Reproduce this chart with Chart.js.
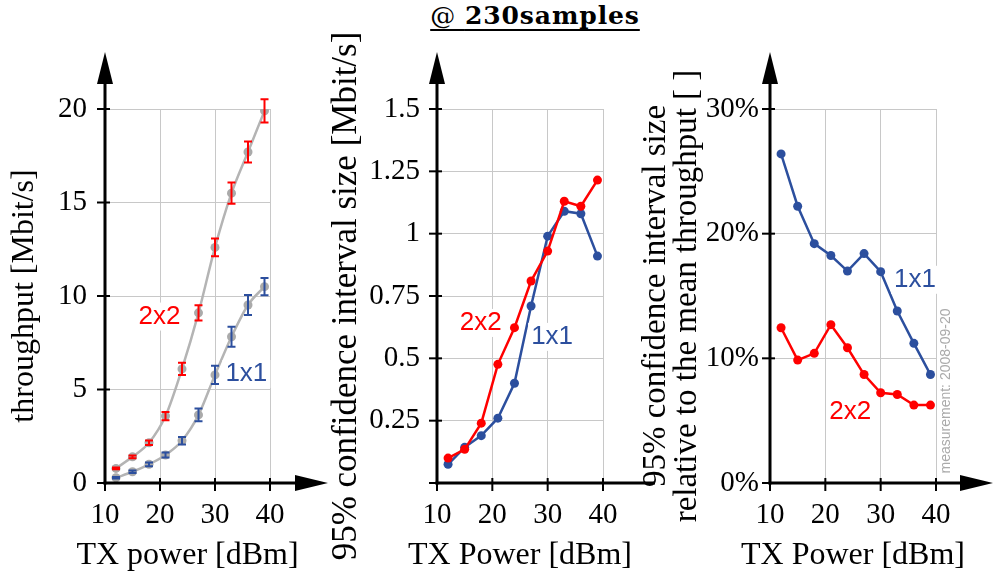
<!DOCTYPE html>
<html><head><meta charset="utf-8">
<script src="https://cdn.jsdelivr.net/npm/chart.js@4"></script>
<style>
html,body{margin:0;padding:0;background:#fff;width:997px;height:574px;overflow:hidden;}
canvas{position:absolute;top:0;}
#title{position:absolute;left:335px;width:400px;top:1px;text-align:center;font-family:"DejaVu Serif";font-size:25px;color:#000;letter-spacing:0.9px;text-decoration:underline;text-decoration-thickness:1.5px;text-underline-offset:5px;}
#title b{font-weight:bold;}
</style></head>
<body>
<div id="title">@ <b>230samples</b></div>
<canvas id="c1" width="335" height="574" style="left:0px;width:335px;height:574px"></canvas>
<canvas id="c2" width="330" height="574" style="left:325px;width:330px;height:574px"></canvas>
<canvas id="c3" width="367" height="574" style="left:630px;width:367px;height:574px"></canvas>
<script>
// ---- data ----
const txPower = [12, 15, 18, 21, 24, 27, 30, 33, 36, 39];
const thr2x2 = [0.78, 1.4, 2.15, 3.58, 6.1, 9.1, 12.6, 15.5, 17.7, 19.9];
const thr1x1 = [0.28, 0.6, 1.0, 1.5, 2.26, 3.64, 5.78, 7.82, 9.52, 10.5];
const err2x2 = [0.05, 0.07, 0.12, 0.22, 0.33, 0.41, 0.47, 0.57, 0.56, 0.62];
const err1x1 = [0.04, 0.07, 0.1, 0.13, 0.2, 0.34, 0.49, 0.53, 0.54, 0.46];
const ci2x2 = [0.10, 0.135, 0.24, 0.476, 0.623, 0.81, 0.93, 1.13, 1.11, 1.215];
const ci1x1 = [0.075, 0.143, 0.19, 0.26, 0.40, 0.71, 0.99, 1.09, 1.08, 0.91];
const rel2x2 = [12.45, 9.86, 10.4, 12.7, 10.85, 8.7, 7.24, 7.1, 6.25, 6.25];
const rel1x1 = [26.4, 22.2, 19.2, 18.25, 17.0, 18.4, 16.95, 13.8, 11.2, 8.7];
const xTicks = [10, 20, 30, 40];
const thrTicks = ['0', '5', '10', '15', '20'];
const ciTicks = ['', '0.25', '0.5', '0.75', '1', '1.25', '1.5'];
const relTicks = ['0%', '10%', '20%', '30%'];

const RED = '#ff0000', BLUE = '#2c4f9e', GREY = '#b4b4b4', GRID = '#c8c8c8';
Chart.defaults.font.family = 'Liberation Serif';
Chart.defaults.color = '#000';

const pts = (ys) => txPower.map((x, i) => ({x: x, y: ys[i]}));

function axesPlugin(tipX, tipY, xTitle) {
  return {
    id: 'arrowAxes',
    afterDraw(chart) {
      const {ctx, chartArea: a, scales: {x, y}} = chart;
      ctx.save();
      ctx.strokeStyle = '#000'; ctx.fillStyle = '#000';
      ctx.lineWidth = 3;
      ctx.beginPath(); ctx.moveTo(a.left, a.bottom + 1.5); ctx.lineTo(a.left, tipY + 28); ctx.stroke();
      ctx.beginPath(); ctx.moveTo(a.left, tipY); ctx.lineTo(a.left - 8, tipY + 32); ctx.lineTo(a.left + 8, tipY + 32); ctx.closePath(); ctx.fill();
      ctx.beginPath(); ctx.moveTo(a.left - 1.5, a.bottom); ctx.lineTo(tipX - 30, a.bottom); ctx.stroke();
      ctx.beginPath(); ctx.moveTo(tipX, a.bottom); ctx.lineTo(tipX - 33, a.bottom - 8); ctx.lineTo(tipX - 33, a.bottom + 8); ctx.closePath(); ctx.fill();
      ctx.lineWidth = 2;
      y.ticks.forEach(t => { const py = y.getPixelForValue(t.value); ctx.beginPath(); ctx.moveTo(a.left - 8, py); ctx.lineTo(a.left + 5, py); ctx.stroke(); });
      x.ticks.forEach(t => { const px = x.getPixelForValue(t.value); ctx.beginPath(); ctx.moveTo(px, a.bottom - 5); ctx.lineTo(px, a.bottom + 8); ctx.stroke(); });
      // x-axis title (drawn here so it is not squeezed to the plot width)
      ctx.font = '32px "Liberation Serif"';
      ctx.textAlign = 'center'; ctx.textBaseline = 'middle';
      ctx.fillText(xTitle, (a.left + a.right) / 2, 556);
      ctx.restore();
    }
  };
}

function labelsPlugin(labels, extra) {
  return {
    id: 'seriesLabels',
    afterDatasetsDraw(chart) {
      const {ctx, scales: {x, y}} = chart;
      ctx.save();
      ctx.font = '26px "Liberation Sans"';
      ctx.textAlign = 'center'; ctx.textBaseline = 'middle';
      labels.forEach(l => {
        const px = x.getPixelForValue(l.x), py = y.getPixelForValue(l.y);
        const w = ctx.measureText(l.text).width;
        ctx.fillStyle = '#fff';
        ctx.fillRect(px - w / 2 - 3, py - 14, w + 6, 28);
        ctx.fillStyle = l.color;
        ctx.fillText(l.text, px, py);
      });
      if (extra) extra(ctx, chart);
      ctx.restore();
    }
  };
}

function errPlugin(sets) {
  return {
    id: 'errBars',
    afterDatasetsDraw(chart) {
      const {ctx, scales: {x, y}} = chart;
      ctx.save(); ctx.lineWidth = 2;
      sets.forEach(s => {
        ctx.strokeStyle = s.color;
        txPower.forEach((tx, i) => {
          const px = x.getPixelForValue(tx);
          const y1 = y.getPixelForValue(s.vals[i] + s.err[i]);
          const y2 = y.getPixelForValue(s.vals[i] - s.err[i]);
          ctx.beginPath();
          ctx.moveTo(px, y1); ctx.lineTo(px, y2);
          ctx.moveTo(px - 4, y1); ctx.lineTo(px + 4, y1);
          ctx.moveTo(px - 4, y2); ctx.lineTo(px + 4, y2);
          ctx.stroke();
        });
      });
      ctx.restore();
    }
  };
}

function xScale() {
  return {
    type: 'linear', min: 10, max: 40,
    afterBuildTicks: s => { s.ticks = xTicks.map(v => ({value: v})); },
    afterFit: s => { s.height = 91; },
    ticks: {padding: 15, font: {size: 29}, maxRotation: 0, autoSkip: false, color: '#000'},
    grid: {drawTicks: false, lineWidth: 1, color: c => (c.tick && c.tick.value === 10) ? 'rgba(0,0,0,0)' : GRID},
    border: {display: false},
    title: {display: false}
  };
}
function yScale(max, step, labels, width, title, tpad, labPad, fsize, lh) {
  return {
    type: 'linear', min: 0, max: max,
    afterFit: s => { s.width = width; },
    ticks: {stepSize: step, padding: labPad, font: {size: 29}, color: '#000', callback: (v, i) => labels[i]},
    grid: {drawTicks: false, lineWidth: 1, color: c => (c.tick && c.tick.value === 0) ? 'rgba(0,0,0,0)' : GRID},
    border: {display: false},
    title: {display: true, text: title, font: {size: fsize, lineHeight: lh || 1.2}, padding: {top: tpad, bottom: 0}, color: '#000'}
  };
}
const baseOpts = (pad) => ({
  responsive: false, animation: false, devicePixelRatio: 1,
  layout: {padding: pad},
  plugins: {legend: {display: false}, tooltip: {enabled: false}, title: {display: false}}
});

// ---- chart 1: throughput ----
const o1 = baseOpts({top: 109, right: 65, bottom: 0, left: 0});
o1.scales = {x: xScale(), y: yScale(20, 5, thrTicks, 105, 'throughput [Mbit/s]', 5, 18, 32)};
new Chart(document.getElementById('c1'), {
  type: 'line',
  data: {datasets: [
    {data: pts(thr2x2), borderColor: GREY, borderWidth: 2.5, pointRadius: 4.5, pointBackgroundColor: '#aaaaaa', pointBorderWidth: 0, cubicInterpolationMode: 'monotone'},
    {data: pts(thr1x1), borderColor: GREY, borderWidth: 2.5, pointRadius: 4.5, pointBackgroundColor: '#aaaaaa', pointBorderWidth: 0, cubicInterpolationMode: 'monotone'}
  ]},
  options: o1,
  plugins: [errPlugin([{vals: thr2x2, err: err2x2, color: RED}, {vals: thr1x1, err: err1x1, color: BLUE}]),
            labelsPlugin([{text: '2x2', x: 19.9, y: 8.9, color: RED}, {text: '1x1', x: 35.7, y: 5.83, color: BLUE}]),
            axesPlugin(328, 52, 'TX power [dBm]')]
});

// ---- chart 2: CI size ----
const o2 = baseOpts({top: 109, right: 52, bottom: 0, left: 0});
o2.scales = {x: xScale(), y: yScale(1.5, 0.25, ciTicks, 112, '95% confidence interval size [Mbit/s]', 1, 17, 35)};
const lineDs = (d, c) => ({data: pts(d), borderColor: c, backgroundColor: c, borderWidth: 2.5, pointRadius: 4.5, pointBackgroundColor: c, pointBorderWidth: 0, tension: 0});
new Chart(document.getElementById('c2'), {
  type: 'line',
  data: {datasets: [lineDs(ci2x2, RED), lineDs(ci1x1, BLUE)]},
  options: o2,
  plugins: [labelsPlugin([{text: '2x2', x: 17.9, y: 0.642, color: RED}, {text: '1x1', x: 30.8, y: 0.586, color: BLUE}]),
            axesPlugin(641, 52, 'TX Power [dBm]')]
});

// ---- chart 3: relative CI ----
const o3 = baseOpts({top: 109, right: 61, bottom: 0, left: 0});
o3.scales = {x: xScale(), y: yScale(30, 10, relTicks, 140, ['95% confidence interval size', 'relative to the mean throughput [ ]'], 11, 11, 33, 0.93)};
new Chart(document.getElementById('c3'), {
  type: 'line',
  data: {datasets: [lineDs(rel2x2, RED), lineDs(rel1x1, BLUE)]},
  options: o3,
  plugins: [labelsPlugin([{text: '1x1', x: 36.2, y: 16.3, color: BLUE}, {text: '2x2', x: 24.5, y: 5.7, color: RED}],
              (ctx) => {
                ctx.save();
                ctx.translate(316, 391); ctx.rotate(-Math.PI / 2);
                ctx.font = '14px "Liberation Sans"'; ctx.fillStyle = '#aaaaaa';
                ctx.textAlign = 'center'; ctx.textBaseline = 'middle';
                ctx.fillText('measurement: 2008-09-20', 0, 0);
                ctx.restore();
              }),
            axesPlugin(363, 52, 'TX Power [dBm]')]
});
</script>
</body></html>
